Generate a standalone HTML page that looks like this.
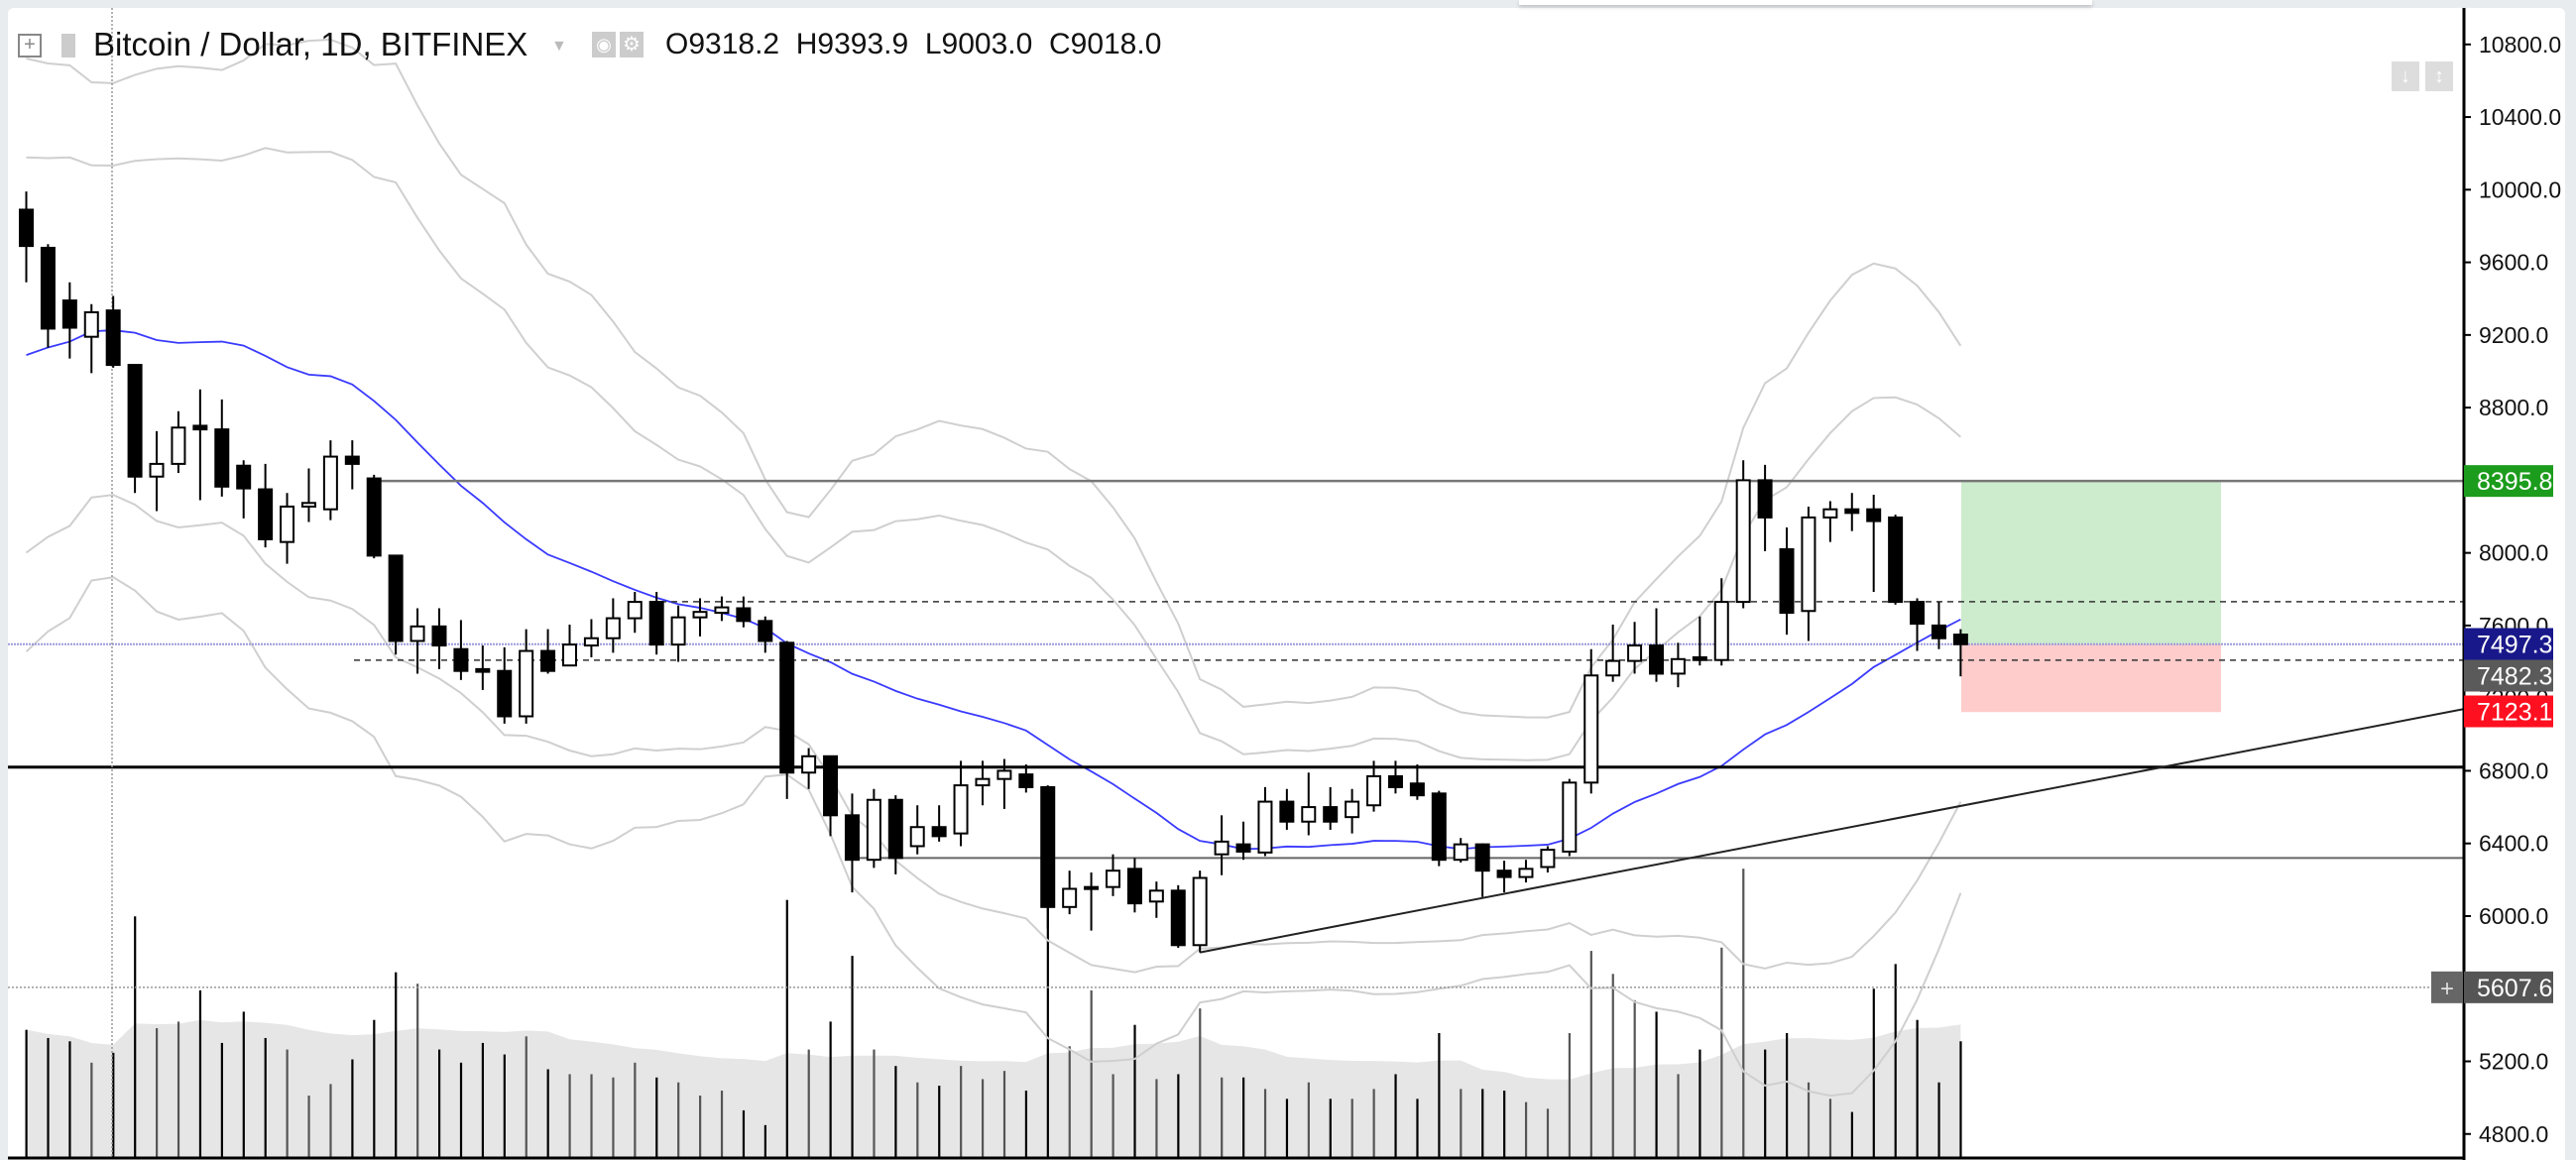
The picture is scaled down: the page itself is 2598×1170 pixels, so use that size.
<!DOCTYPE html>
<html><head><meta charset="utf-8">
<style>
html,body{margin:0;padding:0;background:#e9ecef;}
body{width:2598px;height:1170px;overflow:hidden;position:relative;font-family:"Liberation Sans",sans-serif;}
#wrap{position:absolute;left:8px;top:8px;width:2579px;height:1162px;background:#fff;border-radius:6px 6px 0 0;}
svg{position:absolute;left:0;top:0;}
</style></head>
<body>
<div id="wrap"></div>
<svg id="chart" width="2598" height="1170"></svg>
<script>
const priorCloses=[8400,8600,8200,8900,8700,9300,9000,8600,8300,8800,9200,9500,9100,8700,9400,9800,9600,10100,9900];
const opens=[9890,9680,9390,9190,9335,9035,8420,8490,8700,8680,8480,8350,8060,8255,8240,8530,8410,7985,7515,7595,7470,7360,7350,7100,7460,7380,7490,7530,7640,7730,7495,7645,7670,7695,7625,7505,6790,6880,6555,6310,6640,6385,6490,6455,6720,6755,6780,6710,6050,6150,6160,6260,6080,6140,5840,6340,6395,6350,6630,6520,6600,6545,6610,6770,6730,6675,6310,6395,6250,6215,6270,6355,6735,7325,7405,7490,7335,7425,7410,7730,8400,8020,7680,8195,8240,8240,8195,7730,7600,7550];
const highs=[9990,9700,9490,9370,9415,9035,8670,8780,8900,8845,8510,8490,8330,8465,8620,8620,8430,7985,7695,7695,7630,7490,7480,7580,7580,7605,7635,7750,7785,7785,7710,7750,7760,7760,7650,7515,6925,6880,6675,6700,6665,6610,6610,6855,6855,6865,6835,6720,6250,6240,6340,6320,6190,6170,6250,6555,6520,6710,6700,6790,6710,6700,6855,6855,6835,6690,6430,6400,6305,6310,6385,6755,7470,7605,7620,7695,7505,7650,7860,8510,8485,8140,8255,8285,8330,8320,8210,7750,7730,7580];
const lows=[9490,9130,9070,8990,9020,8330,8230,8440,8290,8310,8190,8030,7940,8170,8180,8350,7970,7440,7335,7360,7300,7245,7060,7060,7335,7380,7425,7450,7560,7440,7400,7540,7625,7590,7450,6645,6700,6440,6130,6265,6230,6340,6410,6385,6610,6590,6680,5930,6010,5920,6110,6020,5990,5825,5800,6225,6310,6330,6475,6445,6475,6455,6575,6675,6640,6275,6295,6105,6130,6185,6240,6330,6675,7290,7335,7290,7260,7380,7380,7695,8010,7550,7515,8060,8120,7785,7715,7460,7470,7320];
const closes=[9690,9235,9240,9325,9035,8420,8490,8690,8680,8365,8355,8075,8255,8275,8530,8490,7985,7515,7595,7490,7350,7345,7100,7460,7350,7495,7530,7640,7730,7495,7645,7675,7700,7625,7515,6790,6880,6555,6310,6640,6320,6490,6440,6720,6755,6800,6710,6050,6150,6160,6250,6070,6140,5840,6210,6410,6355,6630,6520,6600,6520,6630,6770,6710,6665,6310,6395,6250,6215,6260,6365,6735,7325,7405,7490,7335,7415,7410,7730,8400,8195,7670,8195,8240,8220,8175,7730,7610,7530,7497];
const volumes=[78,73,71,58,64,147,79,83,102,70,89,73,66,38,45,60,84,113,106,66,58,70,63,74,54,51,51,49,58,49,46,38,41,29,20,157,66,83,123,66,56,46,44,56,48,53,41,154,68,102,51,81,48,51,91,49,49,42,36,46,36,36,42,51,36,76,42,42,41,34,30,76,126,112,96,89,51,66,128,176,66,76,46,36,28,103,118,84,46,71];
const yTicks=[10800,10400,10000,9600,9200,8800,8400,8000,7600,7200,6800,6400,6000,5600,5200,4800];
const levelResist=8395.8, levelSupport=6820, levelLow=6320, dashHigh=7731, dashLow=7409;
const lastPrice=7497.3, stopPrice=7123.1, entryPrice=7482.3, crossPrice=5607.6;
const trendStartIdx=54, trendStartPrice=5800, trendEndPrice=7140;

const NS='http://www.w3.org/2000/svg';
const svg=document.getElementById('chart');
const AXIS_X=2485, X0=26.5, DX=21.92, CW=13;
const y=p=>44.8+(10800-p)*0.18316;
const x=i=>X0+i*DX;
const VB=1168, VS=1.658;
function el(tag,attrs,parent){const e=document.createElementNS(NS,tag);for(const k in attrs)e.setAttribute(k,attrs[k]);(parent||svg).appendChild(e);return e;}

const defs=el('defs',{});
const cp=el('clipPath',{id:'plot'},defs);el('rect',{x:8,y:8,width:AXIS_X-8,height:1160},cp);
const g=el('g',{'clip-path':'url(#plot)'});

function sma(arr,i,n){let s=0,c=0;for(let k=Math.max(0,i-n+1);k<=i;k++){s+=arr[k];c++;}return s/c;}
let ap='M'+x(0)+','+VB;
volumes.forEach((v,i)=>{ap+=' L'+x(i)+','+(VB-sma(volumes,i,20)*VS);});
ap+=' L'+x(volumes.length-1)+','+VB+' Z';
const va=el('path',{d:ap,fill:'#e6e6e6',stroke:'none'},g);



volumes.forEach((v,i)=>{
  const b=el('rect',{x:x(i)-1,y:VB-v*VS,width:2.2,height:v*VS,fill:closes[i]<opens[i]?'#000':'#555'},g);
  
  
});

const allC=priorCloses.concat(closes), OFF=priorCloses.length;
function sd(j,n){const m=sma(allC,j,n);let s=0,c=0;for(let k=Math.max(0,j-n+1);k<=j;k++){s+=(allC[k]-m)**2;c++;}return Math.sqrt(s/c);}
[[3,'bb-outer-upper'],[2,'bb-inner-upper'],[-2,'bb-inner-lower'],[-3,'bb-outer-lower']].forEach(([k,name])=>{
  let d='';closes.forEach((c,i)=>{const j=i+OFF;d+=(i?' L':'M')+x(i)+','+y(sma(allC,j,20)+k*sd(j,20));});
  const p=el('path',{d:d,fill:'none',stroke:'#cfcfcf','stroke-width':2},g);
  
  
});
let md='';closes.forEach((c,i)=>{md+=(i?' L':'M')+x(i)+','+y(sma(allC,i+OFF,20));});
const ml=el('path',{d:md,fill:'none',stroke:'#3a3aff','stroke-width':1.8},g);



const gr=el('rect',{x:1978,y:y(levelResist),width:262,height:y(lastPrice)-y(levelResist),fill:'#cdebcd'},g);


const rr=el('rect',{x:1978,y:y(lastPrice),width:262,height:y(stopPrice)-y(lastPrice),fill:'#ffcccc'},g);



function hline(p,x1,stroke,w,dash,name){const l=el('line',{x1:x1,x2:AXIS_X,y1:y(p),y2:y(p),stroke:stroke,'stroke-width':w},g);if(dash)l.setAttribute('stroke-dasharray',dash);}
hline(levelResist,x(16),'#777',2.5,null,'resistance-line');
hline(levelSupport,8,'#000',3,null,'support-line');
hline(levelLow,x(38),'#666',2,null,'range-low-line');
hline(dashHigh,655,'#333',1.5,'6,5','dashed-level-high');
hline(dashLow,357,'#333',1.5,'6,5','dashed-level-low');
hline(lastPrice,8,'#9a9ad8',2,'2,1','last-price-line');
hline(crossPrice,8,'#999',1.5,'2,2','crosshair-h');
const cv=el('line',{x1:113,x2:113,y1:8,y2:1168,stroke:'#999','stroke-width':1.5,'stroke-dasharray':'2,2'},g);


const tl=el('line',{x1:x(trendStartIdx),y1:y(trendStartPrice),x2:AXIS_X,y2:y(trendEndPrice),stroke:'#222','stroke-width':2},g);



opens.forEach((o,i)=>{
  const c=closes[i],up=c>=o,cx=x(i);
  const w=el('line',{x1:cx,x2:cx,y1:y(highs[i]),y2:y(lows[i]),stroke:'#000','stroke-width':2},g);
  
  
  const top=y(Math.max(o,c)),h=Math.max(2,Math.abs(y(o)-y(c)));
  const b=el('rect',{x:cx-CW/2,y:top,width:CW,height:h,fill:up?'#fff':'#000',stroke:'#000','stroke-width':2},g);
  
  
});

const ax=el('line',{x1:AXIS_X,x2:AXIS_X,y1:8,y2:1170,stroke:'#000','stroke-width':3});


el('line',{x1:8,x2:AXIS_X,y1:1168,y2:1168,stroke:'#000','stroke-width':3});
yTicks.forEach(t=>{
  el('line',{x1:AXIS_X,x2:AXIS_X+7,y1:y(t),y2:y(t),stroke:'#000','stroke-width':2});
  const tx=el('text',{x:2500,y:y(t)+8,'font-size':23,fill:'#111','font-family':'Liberation Sans, sans-serif'});
  tx.textContent=t.toFixed(1);
  
  
});
function badge(yc,fill,name,txt){
  const r=el('rect',{x:AXIS_X,y:yc-16,width:90,height:32,fill:fill});
  
  
  const t=el('text',{x:2498,y:yc+9,'font-size':25,fill:'#fff','font-family':'Liberation Sans, sans-serif'});
  t.textContent=txt;
}
badge(y(levelResist),'#1c9c1c','target-price-label','8395.8');
badge(649.5,'#19188a','last-price-label','7497.3');
badge(681.5,'#5a5a5a','entry-price-label','7482.3');
badge(717.5,'#ff1020','stop-price-label','7123.1');
badge(y(crossPrice),'#555','crosshair-price-label','5607.6');
const pb=el('rect',{x:2452,y:y(crossPrice)-16,width:32,height:32,fill:'#666'});


const pt=el('text',{x:2468,y:y(crossPrice)+9,'font-size':24,fill:'#ddd','text-anchor':'middle'});pt.textContent='+';
</script>
<div style="position:absolute;left:0;top:0;font-family:'Liberation Sans',sans-serif;color:#111;white-space:nowrap;">
  <span style="position:absolute;left:18px;top:34px;width:20px;height:20px;border:2px solid #888;color:#888;font-size:20px;line-height:19px;text-align:center;">+</span>
  <span style="position:absolute;left:62px;top:34px;width:14px;height:24px;background:#ccc;"></span>
  <span style="position:absolute;left:94px;top:26px;font-size:33px;">Bitcoin / Dollar, 1D, BITFINEX</span>
  <span style="position:absolute;left:556px;top:38px;color:#bbb;font-size:16px;">▼</span>
  <span style="position:absolute;left:597px;top:32px;width:24px;height:26px;background:#ccc;color:#fff;font-size:18px;text-align:center;line-height:26px;">◉</span>
  <span style="position:absolute;left:625px;top:32px;width:24px;height:26px;background:#ccc;color:#fff;font-size:20px;text-align:center;line-height:26px;">⚙</span>
  <span style="position:absolute;left:671px;top:28px;font-size:30px;">O9318.2&nbsp;&nbsp;H9393.9&nbsp;&nbsp;L9003.0&nbsp;&nbsp;C9018.0</span>
</div>
<div style="position:absolute;left:1532px;top:0;width:578px;height:5px;background:#fff;box-shadow:0 2px 4px rgba(0,0,0,.2);"></div>
<div style="position:absolute;left:2412px;top:62px;">
  <span style="position:absolute;left:0;top:0;width:28px;height:30px;background:#ddd;color:#fff;text-align:center;font-size:20px;line-height:30px;">↓</span>
  <span style="position:absolute;left:34px;top:0;width:28px;height:30px;background:#ddd;color:#fff;text-align:center;font-size:20px;line-height:30px;">↕</span>
</div>
</body></html>
